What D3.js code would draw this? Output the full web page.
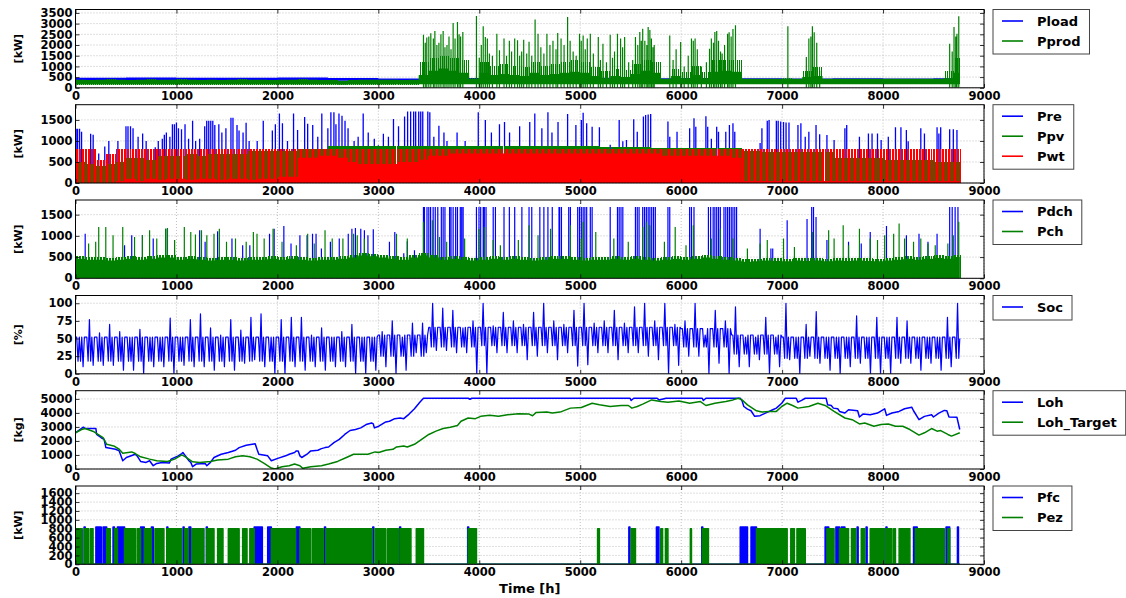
<!DOCTYPE html>
<html><head><meta charset="utf-8">
<script src="https://cdn.jsdelivr.net/npm/d3@7"></script>
<style>
body{margin:0;background:#fff}
text{font-family:"DejaVu Sans",sans-serif;font-weight:bold;fill:#000}
</style>
</head><body>
<svg id="c" width="1126" height="598"></svg>
<script>
// ---------------- DATA ----------------
const xTicks = [0,1000,2000,3000,4000,5000,6000,7000,8000,9000];
const yTicksP1 = [0,500,1000,1500,2000,2500,3000,3500];
const yTicksP2 = [0,500,1000,1500];
const yTicksP3 = [0,500,1000,1500];
const yTicksP4 = [0,25,50,75,100];
const yTicksP5 = [0,1000,2000,3000,4000,5000];
const yTicksP6 = [0,200,400,600,800,1000,1200,1400,1600];
const yLabels = ["[kW]","[kW]","[kW]","[%]","[kg]","[kW]"];
const xLabel = "Time [h]";
const lastHour = 8760;

// Panel 1 : Pload envelope (500 h bins)
const ploadHi = [470,480,470,470,480,460,440,460,470,480,470,450,460,450,440,450,430,450];
const ploadLo = [340,350,340,340,350,330,310,330,340,350,340,320,330,320,310,320,300,320];
// Pprod envelopes (100 h bins): lower edge, dense level, upper edge of the thick trace
const pprodLo = [150,150,150,150,150,150,150,150,150,150, 150,150,150,150,150,150,150,150,150,150,
  150,150,150,150,150,150,140,150,150,150, 150,150,150,150,170,170,170,170,170,170,
  170,170,170,170,170,170,170,170,170,170, 170,170,170,170,170,170,170,170,170,170,
  170,170,170,170,170,170,170,170,170,170, 170,170,170,170,170,170,170,170,170,170,
  170,170,170,170,170,170,170,170];
const pprodDense = [380,370,380,390,380,370,380,390,380,380, 390,380,370,380,370,380,390,380,380,370,
  380,380,390,380,370,360,330,360,380,380, 380,380,370,380,600,800,900,800,700,420,
  700,600,650,600,550,700,600,650,700,750, 700,550,450,550,500,650,800,700,420,550,
  450,600,450,750,800,750,420,420,420,420, 420,420,500,550,420,420,420,420,420,420,
  420,420,420,420,420,420,450,700];
const pprodHi = [380,370,380,390,380,370,380,390,380,380, 390,380,370,380,370,380,390,380,380,370,
  380,380,390,380,370,360,330,360,380,380, 380,380,370,380,1200,1400,1500,1400,1300,450,
  1200,1000,1100,1000,950,1200,1000,1100,1200,1300, 1200,950,800,900,850,1100,1300,1200,420,900,
  750,1000,750,1300,1300,1300,420,420,420,420, 450,420,800,950,420,420,420,420,420,420,
  420,420,420,420,420,420,800,1400];
const pprodSpikes = [[3447,2480],[3465,2100],[3480,2350],[3500,2400],[3520,2550],[3545,2300],[3560,2650],
  [3580,2000],[3600,2100],[3620,2500],[3642,2650],[3660,1900],[3680,2000],[3700,2400],[3720,1800],
  [3741,3030],[3760,2300],[3784,3080],[3800,2500],[3815,2400],[3837,2610],
  [3972,3360],[4000,1400],[4020,2000],[4039,2875],[4060,2375],[4080,2300],[4100,1600],[4130,1500],
  [4174,2530],[4200,1750],[4245,2300],[4270,1500],[4298,2200],[4320,1700],[4351,2300],[4379,2220],
  [4400,1500],[4420,1700],[4440,2250],[4470,1600],[4493,2150],[4520,1500],[4553,3190],[4582,2530],
  [4610,1900],[4640,1600],[4670,2530],[4700,2000],[4730,2200],[4760,1800],[4777,2560],
  [4810,2300],[4840,2000],[4875,3310],[4900,2200],[4930,1700],[4960,1500],[4993,2530],[5010,2200],
  [5029,2450],[5050,1800],[5070,2300],[5100,2530],[5130,1600],
  [5179,2375],[5200,1300],[5225,2060],[5260,1200],[5297,2485],[5320,1400],[5340,1700],[5369,2530],
  [5400,2300],[5420,1900],[5440,2375],[5480,1200],[5520,1300],[5547,2375],[5570,2000],[5590,2610],
  [5605,2200],[5619,2766],[5640,2200],[5660,2000],[5673,2845],[5690,2700],[5705,2300],[5720,1900],[5733,2000],
  [5887,2450],[5920,1300],[5950,1800],[5995,2140],[6030,1000],[6070,1500],[6102,2300],[6120,2200],
  [6138,2300],[6160,1800],[6200,1000],[6250,1200],[6281,1830],[6299,2300],[6320,2100],[6334,2610],
  [6352,2660],[6370,2200],[6390,1700],[6406,1600],[6430,2000],[6460,2530],[6475,2600],[6495,2400],
  [6513,2750],[6538,2920],
  [7057,2875],[7240,1440],[7265,2300],[7285,2400],[7300,2875],[7318,2600],[7343,2100],[7372,810],
  [8660,2060],[8685,1700],[8703,2845],[8720,2400],[8732,2530],[8750,3345]];

// Panel 2 (100 h bins)
const ppvHi = [500,450,400,450,500,600,600,550,650,650, 650,700,650,700,700,700,700,750,750,750,
  750,750,800,800,800,870,870,870,870,870, 870,870,870,880,880,880,870,880,880,880,
  890,890,890,890,890,890,890,890,870,870, 870,870,860,860,860,860,860,830,830,830,
  830,830,830,830,830,830,750,760,740,740, 740,740,740,740,740,600,600,600,600,600,
  540,540,540,540,540,500,500,500];
const pwtHi = [800,800,550,700,800,800,800,800,800,800, 800,800,800,800,800,800,800,800,800,800,
  800,800,800,800,800,800,800,800,800,800, 800,800,800,800,800,800,800,800,800,800,
  800,800,800,800,800,800,800,800,800,800, 800,800,800,800,800,800,800,800,800,800,
  800,800,800,800,800,800,800,800,800,800, 800,800,800,800,800,800,800,800,800,800,
  800,800,800,800,800,800,800,800];
// level up to which the red trace is practically solid (100 h bins)
const pwtSolid = [0,0,0,0,50,100,50,100,80,100, 100,80,100,100,80,100,100,80,100,100,
  150,150,600,600,650,650,600,500,450,450, 450,450,500,500,550,650,650,700,700,700,
  700,700,700,700,700,700,700,700,700,700, 700,700,700,700,700,700,700,700,650,650,
  650,650,650,650,650,600,50,50,50,50, 50,50,50,50,50,50,50,50,50,50,
  50,50,50,50,50,50,50,50];
const preSpikes = [[5,1290],[20,1290],[40,1290],[60,1220],[150,1170],[175,1150],[230,700],[290,870],
  [330,1000],[420,1000],[500,1350],[520,1350],[545,1350],[570,1300],[620,1100],[665,1180],[700,1000],
  [790,850],[820,1000],[860,1050],[880,1150],[900,1200],[935,1100],[960,1400],[980,1400],[1000,1440],
  [1020,1300],[1050,1280],[1085,1400],[1120,1050],[1160,1480],[1190,1000],[1230,1050],[1280,1350],
  [1300,1480],[1320,1480],[1340,1480],[1360,1480],[1380,1380],[1420,1400],[1450,1200],[1490,1300],
  [1540,1550],[1560,1550],[1600,1380],[1620,1250],[1660,1200],[1690,1430],[1720,1000],[1800,1000],
  [1860,1480],[1950,1250],[1980,1400],[2020,1650],[2050,1420],[2100,1000],[2160,1650],[2200,1260],
  [2270,1570],[2300,1410],[2350,1380],[2400,1100],[2440,1650],[2500,1300],[2530,1680],[2560,1680],
  [2580,1400],[2610,1650],[2640,1600],[2670,1480],[2700,1300],[2760,1000],[2800,1100],[2850,1650],
  [2900,1200],[2960,1050],[3000,900],[3050,1170],[3100,1100],[3150,1520],[3200,1350],[3260,1580],
  [3290,1700],[3320,1700],[3350,1700],[3370,1700],[3400,1700],[3420,1700],[3440,1700],[3490,1700],
  [3510,1680],[3550,1100],[3600,1360],[3650,1200],[3680,1000],[3780,1200],[3860,1000],[3990,1680],
  [4060,1500],[4120,1200],[4200,1400],[4250,1450],[4300,1200],[4400,1350],[4500,1450],[4550,1650],
  [4620,1300],[4680,1680],[4720,1200],[4780,1450],[4875,1640],[4957,1380],[5011,1500],[5029,1670],
  [5064,1420],[5118,1340],[5190,1325],[5297,910],[5386,1500],[5422,990],[5458,1025],[5530,1515],
  [5565,1220],[5626,1580],[5648,1620],[5673,1630],[5698,1640],[5869,1460],[5887,1100],[5959,1220],
  [6084,1300],[6127,1540],[6145,1340],[6245,1590],[6263,1340],[6299,1050],[6352,1340],[6370,1220],
  [6442,1220],[6478,1380],[6513,1420],[6531,1220],[6782,950],[6800,1300],[6853,1480],[6871,1500],
  [6943,1480],[6961,1480],[6986,1460],[7014,1450],[7039,1440],[7068,1440],[7157,1380],[7186,1420],
  [7229,1100],[7265,1220],[7336,1380],[7372,1160],[7444,1140],[7515,1025],[7622,1300],[7640,1380],
  [7766,1100],[7855,1180],[7891,1180],[7945,1180],[7981,1025],[8052,1100],[8123,1325],[8177,1325],
  [8231,1260],[8249,990],[8374,1300],[8410,1180],[8535,1325],[8553,1180],[8571,1325],[8660,1280],
  [8696,1280],[8732,1260]];

// Panel 3
const pdchSpikes = [[96,1050],[486,780],[557,1015],[663,1015],[770,940],[894,1170],[1230,1130],[1284,860],
  [1408,1110],[1550,940],[1656,780],[1727,780],[1922,1050],[1968,1170],[2064,1235],[2135,820],[2223,1015],
  [2294,1015],[2348,1050],[2383,1050],[2436,700],[2525,860],[2613,940],[2702,1050],[2738,1170],[2773,1185],
  [2826,1170],[2862,1130],[2897,1015],[2950,1155],[3110,860],[3163,1090],[3252,590],[3287,875],[3358,660],
  [6782,1170],[6889,700],[6907,700],[7050,1370],[7247,1400],[7336,1445],[7444,900],[7658,860],[7784,820],
  [7873,1090],[8034,1235],[8231,1015],[8356,1050],[8445,860],[8535,1050]];
const pdchCapValue = 1680;
const pdchCapHours = [3447,3457,3482,3500,3518,3543,3564,3589,3624,3642,3660,3706,3720,3741,3766,3784,3812,3826,3840,
  3972,3997,4014,4039,4050,4067,4138,4160,4245,4298,4351,4422,4493,4520,4600,4640,4680,4723,4790,
  4796,4814,4886,4903,4975,4993,5011,5029,5046,5064,5100,5118,5297,5369,5386,5404,5422,
  5547,5565,5583,5619,5637,5655,5673,5690,5708,5726,5744,5869,5887,6084,6102,6127,6270,6292,
  6317,6334,6352,6370,6388,6424,6442,6460,6478,6496,6513,6531,6549,7293,7311,8660,8685,8714,8742];
const pchHi = [520,500,500,480,500,520,500,520,550,550, 500,520,500,480,500,500,480,500,500,520,
  500,520,500,480,500,500,520,550,600,580, 550,520,500,550,600,550,500,520,500,480,
  500,520,500,520,500,480,500,520,520,500, 480,500,500,520,500,520,500,480,500,520,
  500,520,550,520,500,480,450,460,480,470, 460,480,470,480,460,480,470,480,470,460,
  480,500,520,500,520,540,520,560];
const pchSpikes = [[130,820],[200,860],[230,1210],[300,1210],[372,1015],[468,1210],[585,976],[663,1015],
  [734,1130],[805,940],[893,1170],[911,1185],[982,900],[1078,1210],[1142,1090],[1188,1030],[1248,1130],
  [1301,1015],[1372,1050],[1425,1170],[1496,860],[1585,940],[1691,860],[1762,1090],[1798,1050],[1869,940],
  [1957,1170],[2046,860],[2188,780],[2300,1050],[2365,820],[2472,1130],[2543,940],[2649,940],[2755,1050],
  [2791,1015],[2862,940],[3180,1050],[3287,940],[3447,1330],[3535,1370],[3606,976],[3677,860],[3855,940],
  [3997,1170],[4050,1210],[4138,900],[4209,780],[4387,900],[4493,1250],[4582,1015],[4706,1170],[4903,1250],
  [5011,940],[5029,1330],[5154,1090],[5333,940],[5476,860],[5619,1210],[5655,1330],[5690,1250],[5834,860],
  [5941,1210],[6048,780],[6120,1250],[6299,940],[6388,1170],[6513,940],[6656,700],[6782,820],[6853,900],
  [7014,940],[7122,740],[7300,1090],[7461,1130],[7515,940],[7605,1250],[7658,780],[7766,1170],[7873,940],
  [7945,900],[8016,1015],[8105,1050],[8159,1290],[8213,940],[8302,860],[8374,940],[8445,820],[8517,780],
  [8642,820],[8696,1015],[8750,1330]];

// Panel 4 : Soc extremes per 100 h, typical band per 500 h
const socHi = [52,77,58,70,60,52,63,52,52,79, 52,77,85,65,55,77,62,80,85,52,
  77,80,80,55,65,52,60,70,52,52, 60,75,52,72,72,100,93,90,65,75,
  100,68,87,75,70,87,100,75,70,90, 100,72,75,90,72,95,100,75,100,70,
  75,100,55,90,75,95,52,52,80,52, 100,52,70,88,52,52,52,82,52,80,
  52,80,75,52,52,52,80,100];
const socLo = [10,12,12,12,5,5,0,10,10,0, 12,10,10,5,10,5,15,20,10,0,
  0,10,5,10,5,10,10,0,0,5, 10,0,5,30,30,33,33,30,30,0,
  0,30,30,30,20,25,30,20,30,11, 13,30,30,20,30,30,25,20,0,12,
  25,25,0,15,0,10,10,20,0,10, 20,0,25,15,5,0,10,15,0,0,
  0,15,15,5,15,5,10,10];
const socTypLo = [18,18,18,18,18,18,25,38,40,40,40,40,38,28,22,22,22,22];
const socTypHi = [52,52,52,52,52,52,55,66,66,66,66,66,64,55,52,52,52,52];

// Panel 5 : Loh and Loh_Target [hour, kg]
const loh = [[0,2580],[43,2816],[78,2980],[96,2887],[202,2887],[209,2464],[255,2230],[284,2112],[301,1526],
  [397,1408],[433,1290],[468,587],[504,821],[592,1056],[610,939],[645,540],[699,470],[734,587],[770,235],
  [805,400],[858,470],[929,422],[947,704],[1018,939],[1053,1103],[1064,1173],[1089,939],[1124,587],
  [1142,470],[1160,164],[1195,352],[1284,400],[1301,235],[1337,470],[1372,821],[1443,1056],[1514,1173],
  [1585,1338],[1621,1526],[1691,1690],[1780,1807],[1798,1408],[1816,1056],[1904,939],[1940,587],
  [2011,774],[2082,939],[2117,1056],[2170,1173],[2188,1290],[2206,1290],[2223,939],[2241,821],
  [2294,1056],[2330,1290],[2401,1338],[2436,1455],[2472,1526],[2507,1572],[2560,1878],[2613,2112],
  [2667,2464],[2720,2746],[2773,2816],[2826,2934],[2879,3168],[2933,3286],[2950,3215],[2961,2934],
  [3004,3051],[3074,3356],[3110,3403],[3163,3591],[3216,3638],[3252,3591],[3305,3919],[3358,4295],
  [3411,4764],[3447,5046],[3890,5046],[3908,4975],[3926,5046],[5494,5046],[5504,4882],[5530,5046],
  [5762,5046],[5780,4929],[5851,5046],[6209,5046],[6220,4882],[6245,5046],[6585,5046],[6603,4858],
  [6621,4459],[6657,4272],[6692,4154],[6728,3755],[6782,3802],[6835,3990],[6907,4225],[6943,4342],
  [6996,4694],[7032,5046],[7140,5046],[7157,4764],[7193,4900],[7229,5046],[7436,5046],[7451,4577],
  [7487,4530],[7508,4342],[7551,4295],[7569,4107],[7622,3990],[7658,4225],[7748,4154],[7766,3708],
  [7801,3919],[7873,3873],[7945,3990],[8016,4295],[8034,3826],[8088,3990],[8159,4107],[8213,4295],
  [8284,4412],[8302,4154],[8356,3520],[8410,3755],[8481,3873],[8499,3708],[8553,3990],[8607,4178],
  [8632,4154],[8653,3708],[8732,3685],[8760,2816]];
const lohTarget = [[0,2580],[60,2816],[96,2887],[184,2652],[273,2230],[309,1760],[379,1643],[433,1408],
  [468,1126],[557,1220],[592,1103],[645,868],[734,704],[805,587],[911,540],[982,704],[1053,1009],
  [1089,868],[1160,516],[1230,470],[1337,540],[1408,634],[1514,704],[1585,868],[1656,939],[1727,868],
  [1798,704],[1869,400],[1940,70],[1975,0],[2046,164],[2117,235],[2170,352],[2223,235],[2252,47],
  [2330,164],[2436,235],[2507,352],[2596,540],[2684,821],[2755,1056],[2897,1056],[2968,1220],[3004,1173],
  [3074,1338],[3145,1408],[3181,1572],[3252,1643],[3287,1572],[3358,1760],[3429,2112],[3500,2464],
  [3571,2699],[3642,2887],[3713,2981],[3784,3098],[3819,3403],[3890,3638],[3961,3591],[4014,3755],
  [4103,3826],[4191,3755],[4280,3873],[4387,3943],[4493,3919],[4528,3802],[4564,4037],[4670,4060],
  [4723,3990],[4800,4060],[4903,4342],[5011,4389],[5118,4694],[5190,4577],[5297,4459],[5404,4530],
  [5476,4530],[5512,4342],[5565,4459],[5619,4624],[5708,4929],[5798,4811],[5869,4764],[5977,4858],
  [6084,4694],[6191,4811],[6245,4530],[6334,4694],[6442,4811],[6513,4929],[6567,5046],[6603,4929],
  [6657,4577],[6746,4154],[6800,4060],[6871,4107],[6943,4107],[6996,4459],[7050,4694],[7104,4530],
  [7157,4342],[7265,4459],[7354,4694],[7426,4530],[7515,4107],[7622,3638],[7694,3520],[7766,3215],
  [7819,3286],[7909,3051],[7981,3168],[8052,3215],[8123,3051],[8195,3051],[8266,2816],[8356,2417],
  [8410,2581],[8481,2887],[8535,2699],[8571,2740],[8642,2464],[8678,2347],[8760,2581]];

// Panel 6 : on-intervals [start hour, end hour]
const pfcValue = 840;
const pfcOn = [[85,96],[202,255],[273,309],[372,386],[415,486],[645,681],[752,770],[905,915],[1066,1076],
  [1124,1142],[1296,1306],[1770,1851],[1904,1940],[2188,2223],[2467,2477],[2945,2955],[3211,3221],
  [3885,3895],[5482,5492],[5755,5780],[6204,6214],[6585,6657],[6692,6746],[7426,7462],[7533,7569],
  [7587,7622],[7743,7753],[7832,7842],[8029,8039],[8302,8338],[8624,8660],[8737,8747]];
const pezValue = 800;
const pezOn = [[0,67],[89,131],[149,174],[309,344],[387,415],[486,592],[610,645],[681,752],[787,876],
  [904,1053],[1082,1117],[1152,1273],[1301,1372],[1408,1461],[1514,1621],[1656,1699],[1727,1770],
  [1940,2181],[2223,2330],[2348,2454],[2479,2940],[2968,3074],[3092,3199],[3216,3323],[3376,3447],
  [3890,3972],[5172,5190],[5504,5547],[5798,5816],[5844,5869],[6091,6102],[6209,6270],[6746,7050],
  [7086,7122],[7147,7229],[7444,7515],[7569,7658],[7687,7730],[7784,7819],[7873,8016],[8034,8088],
  [8105,8123],[8159,8266],[8320,8607],[8642,8660]];

const legends = [["Pload","Pprod"],["Pre","Ppv","Pwt"],["Pdch","Pch"],["Soc"],["Loh","Loh_Target"],["Pfc","Pez"]];
const legendColors = [["#0000ff","#008000"],["#0000ff","#008000","#ff0000"],["#0000ff","#008000"],["#0000ff"],["#0000ff","#008000"],["#0000ff","#008000"]];

// ---------------- LAYOUT ----------------
const svg = d3.select("#c");
const X0 = 75.5, X1 = 984, PH = 78.3;
const tops = [9.5, 104.7, 200, 295.5, 390.7, 486];
const yMax = [3660, 1862, 1845, 111, 5585, 1761];
const yTicks = [yTicksP1,yTicksP2,yTicksP3,yTicksP4,yTicksP5,yTicksP6];
const BLUE="#0000ff", GREEN="#008000", RED="#ff0000";
const x = d3.scaleLinear().domain([0,9000]).range([X0,X1]);

const panels = tops.map((t,i)=>{
  const y = d3.scaleLinear().domain([0,yMax[i]]).range([t+PH,t]);
  const g = svg.append("g");
  g.append("clipPath").attr("id","clip"+i).append("rect")
    .attr("x",X0).attr("y",t).attr("width",X1-X0).attr("height",PH);
  const grid = g.append("g").attr("stroke","#b0b0b0").attr("stroke-width",0.8).attr("stroke-dasharray","1,2");
  xTicks.forEach(v=>grid.append("line").attr("x1",x(v)).attr("x2",x(v)).attr("y1",t).attr("y2",t+PH));
  yTicks[i].forEach(v=>grid.append("line").attr("x1",X0).attr("x2",X1).attr("y1",y(v)).attr("y2",y(v)));
  const plot = g.append("g").attr("clip-path",`url(#clip${i})`);
  return {y, g, plot, t};
});

function bandArea(p, binW, lo, hi, color){
  const pts = hi.map((v,i)=>({h:i*binW, lo:lo[i], hi:v}));
  pts.push({h:lastHour, lo:lo[lo.length-1], hi:hi[hi.length-1]});
  p.plot.append("path").datum(pts)
    .attr("d", d3.area().curve(d3.curveStepAfter).x(d=>x(Math.min(d.h,lastHour))).y0(d=>p.y(d.lo)).y1(d=>p.y(d.hi)))
    .attr("fill", color);
}
function segs(p, list, color, w, crisp){ // list of [hour, from, to]
  const px = h => crisp ? Math.round(x(h)) + 0.5 : x(h);
  p.plot.append("path")
    .attr("d", list.map(([h,a,b])=>`M${px(h)},${p.y(a)}V${p.y(b)}`).join(""))
    .attr("stroke", color).attr("stroke-width", w||1.2).attr("fill","none")
    .attr("shape-rendering", crisp ? "crispEdges" : null);
}
function spikes(p, list, color, w){ segs(p, list.map(([h,v])=>[h,0,v]), color, w, false); }
function lineSeries(p, pts, color, w){
  p.plot.append("path").datum(pts)
    .attr("d", d3.line().x(d=>x(d[0])).y(d=>p.y(d[1])))
    .attr("stroke", color).attr("stroke-width", w||1.5).attr("fill","none").attr("stroke-linejoin","round");
}
// a dense hourly trace seen at this scale: vertical strokes spanning the bin's read envelope
function hatch(p, binW, lo, hi, color, step, phase){
  const list = [];
  for(let h = phase||0; h <= lastHour; h += step){
    const i = Math.min(Math.floor(h/binW), hi.length-1);
    list.push([h, lo[i], hi[i]]);
  }
  segs(p, list, color, 1, true);
}
function onOff(p, intervals, level, color){
  const pts=[[0,0]];
  intervals.forEach(([s,e])=>{pts.push([s,0],[s,level],[e,level],[e,0]);});
  pts.push([lastHour,0]);
  p.plot.append("path").datum(pts)
    .attr("d", d3.area().x(d=>x(d[0])).y0(p.y(0)).y1(d=>p.y(d[1])))
    .attr("fill", color);
  lineSeries(p, pts, color, 1.5);
}
const zeros = n => new Array(n).fill(0);

// Panel 1
bandArea(panels[0], 500, ploadLo, ploadHi, BLUE);
bandArea(panels[0], 100, pprodLo, pprodDense, GREEN);
hatch(panels[0], 100, pprodLo, pprodHi, GREEN, 20, 10);
spikes(panels[0], pprodSpikes, GREEN, 1.2);

// Panel 2
spikes(panels[1], preSpikes, BLUE, 1.3);
hatch(panels[1], 100, zeros(ppvHi.length), ppvHi, GREEN, 10, 0);
bandArea(panels[1], 100, zeros(pwtSolid.length), pwtSolid, RED);
hatch(panels[1], 100, zeros(pwtHi.length), pwtHi, RED, 15, 0);

// Panel 3
spikes(panels[2], pdchSpikes, BLUE, 1.2);
spikes(panels[2], pdchCapHours.map(h=>[h,pdchCapValue]), BLUE, 1.2);
bandArea(panels[2], 100, zeros(pchHi.length), pchHi.map(v=>v-60), GREEN);
hatch(panels[2], 100, zeros(pchHi.length), pchHi, GREEN, 15, 0);
spikes(panels[2], pchSpikes, GREEN, 1.2);

// Panel 4 : Soc as a scribbled trace between its read levels
const socPts = [];
socHi.forEach((v,i)=>{
  const h = i*100, j = Math.floor(h/500);
  socPts.push([h, socTypHi[j]], [h+12, socTypHi[j]], [h+25, socTypLo[j]], [h+38, v],
              [h+50, socTypLo[j]], [h+62, socTypHi[j]], [h+75, socLo[i]], [h+88, socTypHi[j]]);
});
socPts.push([lastHour, 50]);
lineSeries(panels[3], socPts.filter(d=>d[0]<=lastHour), BLUE, 1.2);

// Panel 5
lineSeries(panels[4], loh, BLUE, 1.5);
lineSeries(panels[4], lohTarget, GREEN, 1.5);

// Panel 6
onOff(panels[5], pfcOn, pfcValue, BLUE);
onOff(panels[5], pezOn, pezValue, GREEN);

// axes, frames, labels, legends
panels.forEach((p,i)=>{
  const g = p.g, t = p.t, y = p.y;
  g.append("g").attr("transform",`translate(0,${t+PH})`)
    .call(d3.axisBottom(x).tickValues(xTicks).tickSize(-4).tickPadding(4).tickFormat(d3.format("d")));
  g.append("g").attr("transform",`translate(${X0},0)`)
    .call(d3.axisLeft(y).tickValues(yTicks[i]).tickSize(-4).tickPadding(3).tickFormat(d3.format("d")));
  g.append("g").attr("transform",`translate(0,${t})`).call(d3.axisTop(x).tickValues(xTicks).tickSize(-4).tickFormat(""));
  g.append("g").attr("transform",`translate(${X1},0)`).call(d3.axisRight(y).tickValues(yTicks[i]).tickSize(-4).tickFormat(""));
  g.selectAll(".domain").remove();
  g.selectAll(".tick line").attr("stroke","#000").attr("stroke-width",0.8);
  g.selectAll(".tick text").attr("font-size","11.5px").attr("font-family","DejaVu Sans")
    .attr("font-weight","bold").attr("fill","#000");
  g.append("rect").attr("x",X0).attr("y",t).attr("width",X1-X0).attr("height",PH)
    .attr("fill","none").attr("stroke","#000").attr("stroke-width",1);
  g.append("text").attr("transform",`translate(22,${t+PH/2}) rotate(-90)`)
    .attr("text-anchor","middle").attr("font-size","11px").text(yLabels[i]);

  const lg = g.append("g");
  const n = legends[i].length;
  const box = lg.append("rect").attr("x",993).attr("y",t).attr("height",4.5+20*n)
    .attr("fill","#fff").attr("stroke","#444").attr("stroke-width",1);
  let maxW = 0;
  legends[i].forEach((name,k)=>{
    const yy = t + 11.5 + 20*k;
    lg.append("line").attr("x1",1002).attr("x2",1023).attr("y1",yy).attr("y2",yy)
      .attr("stroke",legendColors[i][k]).attr("stroke-width",1.6);
    const tx = lg.append("text").attr("x",1037).attr("y",yy).attr("dy","0.36em")
      .attr("font-size","13px").text(name);
    maxW = Math.max(maxW, tx.node().getComputedTextLength());
  });
  box.attr("width", 1037 - 993 + maxW + 9);
});

svg.append("text").attr("x",(X0+X1)/2).attr("y",593).attr("text-anchor","middle")
  .attr("font-size","13px").text(xLabel);
</script>
</body></html>
